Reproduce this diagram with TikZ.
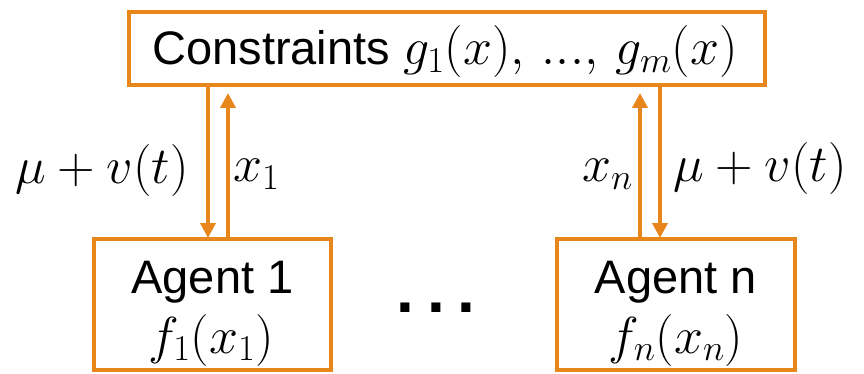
\RequirePackage{fix-cm}
\documentclass[tikz,border=0pt]{standalone}
\usepackage[no-math]{fontspec}
\setmainfont{Liberation Sans}
\usetikzlibrary{arrows.meta}
\definecolor{boxorange}{RGB}{231,134,27}
\newcommand{\bigmath}[1]{{\fontsize{52}{60}\selectfont$#1$}}
\begin{document}
\begin{tikzpicture}[x=1pt,y=-1pt,
  frame/.style={draw=boxorange,line width=4pt,inner sep=0pt,fill=white},
  txt/.style={inner sep=0pt,anchor=base,font=\fontsize{47}{55}\selectfont},
  arr/.style={draw=boxorange,line width=4pt,-{Triangle[width=15pt,length=15pt]}}]
\useasboundingbox (0,0) rectangle (864,374);
% boxes
\node[frame,minimum width=636pt,minimum height=73pt] (c) at (447,48.5) {};
\node[frame,minimum width=237pt,minimum height=131pt] (a1) at (212.5,304.5) {};
\node[frame,minimum width=238pt,minimum height=131pt] (an) at (676,304.5) {};
% texts
\node[txt] (ct) at (445,65) {Constraints \bigmath{g_1(x),\,...,\,g_m(x)}};
\node[txt] (a1t) at (212.5,293) {Agent 1};
\node[txt] (a1f) at (211,353) {\bigmath{f_1(x_1)}};
\node[txt] (ant) at (676,293) {Agent n};
\node[txt] (anf) at (676,353) {\bigmath{f_n(x_n)}};
\node[inner sep=0pt,anchor=base,font=\fontsize{64}{64}\selectfont\bfseries] (dots) at (436,312) {.\hspace{13pt}.\hspace{13pt}.};
% arrow anchors
\coordinate (l1) at ([xshift=-4.5pt]a1.north);
\coordinate (l2) at ([xshift=15.5pt]a1.north);
\coordinate (r1) at ([xshift=-36pt]an.north);
\coordinate (r2) at ([xshift=-16pt]an.north);
\draw[arr,shorten >=-1pt] (l1 |- c.south) -- (l1);
\draw[arr,shorten >=6pt] (l2) -- (l2 |- c.south);
\draw[arr,shorten >=6pt] (r1) -- (r1 |- c.south);
\draw[arr,shorten >=-1pt] (r2 |- c.south) -- (r2);
% labels
\node[txt] (lm) at (102,183) {\bigmath{\mu+v(t)}};
\node[txt,anchor=base west] (lx) at (233,182) {\bigmath{x_1}};
\node[txt,anchor=base east] (rx) at (633,182) {\bigmath{x_n}};
\node[txt] (rm) at (760,182) {\bigmath{\mu+v(t)}};
\end{tikzpicture}
\end{document}
